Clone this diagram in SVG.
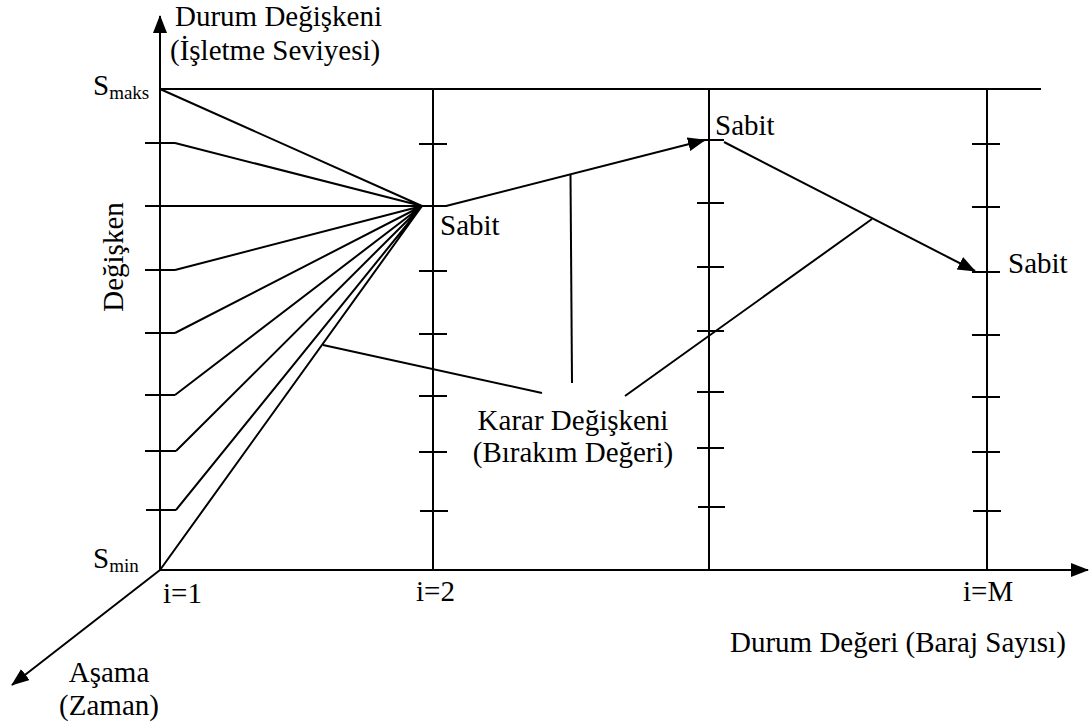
<svg xmlns="http://www.w3.org/2000/svg" width="1090" height="728" viewBox="0 0 1090 728">
<style>
.ln{stroke:#000;stroke-width:2;fill:none;stroke-linecap:butt}
.t{font-family:"Liberation Serif","Times New Roman",serif;font-size:29px;fill:#000}
.sub{font-size:19px}
</style>
<defs>
<marker id="ah" markerUnits="userSpaceOnUse" markerWidth="20" markerHeight="16" refX="17" refY="7" orient="auto">
<path d="M0,0 L18,7 L0,14 z" fill="#000"/>
</marker>
</defs>
<rect width="1090" height="728" fill="#fff"/>

<g id="axes">
<line class="ln" x1="160" y1="570" x2="160" y2="16" marker-end="url(#ah)"/>
<line class="ln" x1="160" y1="570" x2="1088" y2="570" marker-end="url(#ah)"/>
<line class="ln" x1="160" y1="570" x2="12" y2="685" marker-end="url(#ah)"/>
<line class="ln" x1="160" y1="89" x2="1041" y2="89"/>
</g>

<g id="stage1">
<path class="ln" d="M145,143H175M145,206H175M145,270H175M145,333H175M145,395H175M145,451H176M146,510H176"/>
</g>
<g id="stage2">
<line class="ln" x1="433" y1="88" x2="433" y2="570"/>
<path class="ln" d="M419,144H447M419,206H447M419,271H447M419,334H447M419,396H447M419,452H447M420,511H448"/>
</g>
<g id="stage3">
<line class="ln" x1="709" y1="88" x2="709" y2="570"/>
<path class="ln" d="M697,140H724M697,203H724M697,267H724M697,331H724M697,392H724M697,448H724M698,507H725"/>
</g>
<g id="stageM">
<line class="ln" x1="987" y1="88" x2="987" y2="570"/>
<path class="ln" d="M972,144H1000M972,207H1000M972,272H1000M972,335H1000M972,397H1000M972,452H1000M973,511H1001"/>
</g>

<g id="connectors">
<path class="ln" d="M160,89L422,206M175,143L422,206M175,206L422,206M175,270L422,206M175,333L422,206M175,395L422,206M176,451L422,206M176,510L422,206M160,570L422,206"/>
<line class="ln" x1="446" y1="206" x2="705" y2="140" marker-end="url(#ah)"/>
<line class="ln" x1="724" y1="142" x2="975" y2="271" marker-end="url(#ah)"/>
<line class="ln" x1="570.5" y1="174" x2="572" y2="383"/>
<line class="ln" x1="323" y1="345" x2="542" y2="393"/>
<line class="ln" x1="625" y1="396" x2="872" y2="219"/>
</g>

<g id="labels">
<text class="t" x="175" y="26">Durum Değişkeni</text>
<text class="t" x="170" y="60">(İşletme Seviyesi)</text>
<text class="t" x="93" y="95">S<tspan class="sub" dy="4">maks</tspan></text>
<text class="t" x="93" y="568">S<tspan class="sub" dy="4">min</tspan></text>
<text class="t" transform="translate(123,257) rotate(-90)" text-anchor="middle">Değişken</text>
<text class="t" x="440" y="235">Sabit</text>
<text class="t" x="715" y="135">Sabit</text>
<text class="t" x="1008" y="273">Sabit</text>
<text class="t" x="573" y="430" text-anchor="middle">Karar Değişkeni</text>
<text class="t" x="573" y="462" text-anchor="middle">(Bırakım Değeri)</text>
<text class="t" x="163" y="603">i=1</text>
<text class="t" x="416" y="601">i=2</text>
<text class="t" x="963" y="601">i=M</text>
<text class="t" x="730" y="652">Durum Değeri (Baraj Sayısı)</text>
<text class="t" x="109" y="682" text-anchor="middle">Aşama</text>
<text class="t" x="109" y="715" text-anchor="middle">(Zaman)</text>
</g>
</svg>
